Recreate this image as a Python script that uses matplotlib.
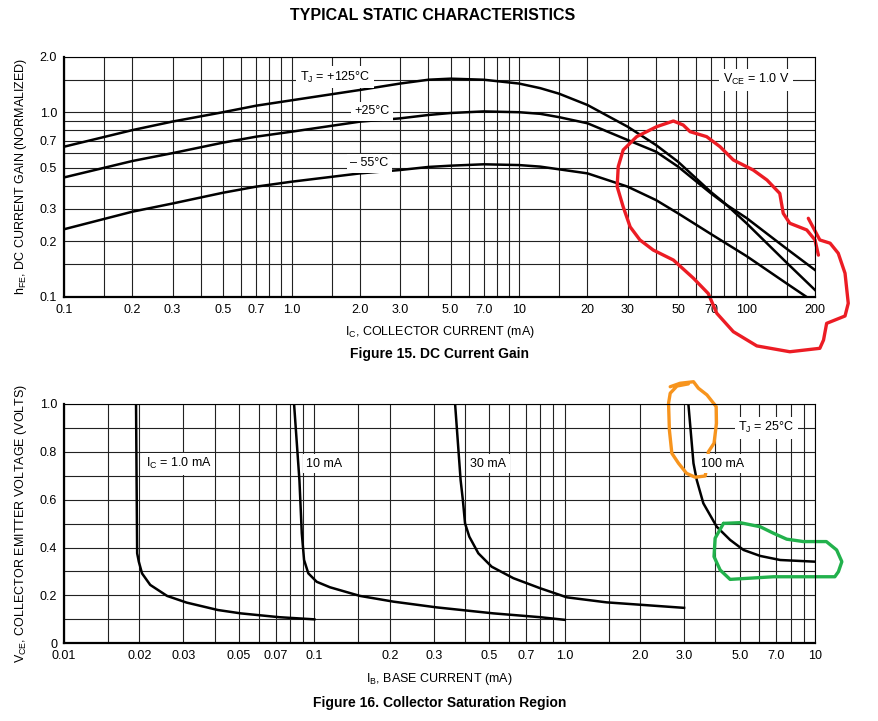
import matplotlib
matplotlib.use('Agg')
import matplotlib.pyplot as plt

plt.rcParams['font.family'] = ['Liberation Sans Narrow', 'Liberation Sans', 'DejaVu Sans']
plt.rcParams['mathtext.fontset'] = 'custom'
plt.rcParams['mathtext.rm'] = 'Liberation Sans Narrow'

# Figure 15 - DC current gain (normalized) vs collector current, mA
ic_hot = [0.1, 0.2, 0.3, 0.5, 0.7, 1.0, 2.0, 3.0, 4.0, 5.0, 7.0, 10, 12.4, 15, 20, 30, 40, 50, 70, 80, 100, 150, 200]
hfe_125 = [0.65, 0.80, 0.89, 1.0, 1.085, 1.16, 1.32, 1.43, 1.50, 1.52, 1.50, 1.43, 1.35, 1.26, 1.094, 0.835, 0.664,
           0.539, 0.368, 0.322, 0.25, 0.153, 0.1087]
hfe_25 = [0.443, 0.544, 0.60, 0.684, 0.737, 0.784, 0.889, 0.926, 0.966, 0.99, 1.01, 1.0, 0.98, 0.94, 0.871, 0.707,
          0.611, 0.507, 0.362, 0.32, 0.267, 0.182, 0.1395]
ic_cold = [0.1, 0.2, 0.3, 0.5, 0.7, 1.0, 2.0, 3.0, 4.0, 5.0, 7.0, 10, 12.4, 20, 30, 40, 50, 70, 100, 150, 183]
hfe_m55 = [0.232, 0.289, 0.32, 0.366, 0.395, 0.42, 0.466, 0.486, 0.505, 0.513, 0.522, 0.517, 0.507, 0.466, 0.395,
           0.334, 0.283, 0.218, 0.166, 0.118, 0.1]

ic_ticks = [0.1, 0.2, 0.3, 0.5, 0.7, 1.0, 2.0, 3.0, 5.0, 7.0, 10, 20, 30, 50, 70, 100, 200]
ic_ticklabels = ['0.1', '0.2', '0.3', '0.5', '0.7', '1.0', '2.0', '3.0', '5.0', '7.0', '10', '20', '30', '50', '70', '100', '200']
hfe_ticks = [0.1, 0.2, 0.3, 0.5, 0.7, 1.0, 2.0]
hfe_ticklabels = ['0.1', '0.2', '0.3', '0.5', '0.7', '1.0', '2.0']

# Figure 16 - collector saturation region, VCE vs base current, mA
ib_1 = [0.0194, 0.0195, 0.0196, 0.0199, 0.0205, 0.0221, 0.0258, 0.0309, 0.0412, 0.0508, 0.0724, 0.1]
vce_1 = [1.0, 0.68, 0.376, 0.341, 0.292, 0.244, 0.198, 0.17, 0.139, 0.125, 0.109, 0.10]
ib_10 = [0.083, 0.0872, 0.0891, 0.091, 0.0946, 0.1022, 0.1155, 0.152, 0.207, 0.308, 0.519, 0.798, 1.0]
vce_10 = [1.0, 0.68, 0.46, 0.348, 0.2925, 0.257, 0.234, 0.198, 0.174, 0.150, 0.125, 0.109, 0.098]
ib_30 = [0.365, 0.384, 0.392, 0.40, 0.416, 0.452, 0.511, 0.624, 0.798, 1.02, 1.47, 2.07, 3.0]
vce_30 = [1.0, 0.682, 0.599, 0.501, 0.4455, 0.376, 0.32, 0.272, 0.23, 0.192, 0.171, 0.160, 0.148]
ib_100 = [3.12, 3.27, 3.37, 3.58, 4.05, 4.58, 5.18, 6.04, 7.26, 10]
vce_100 = [1.0, 0.752, 0.682, 0.585, 0.487, 0.432, 0.39, 0.365, 0.348, 0.341]

ib_ticks = [0.01, 0.02, 0.03, 0.05, 0.07, 0.1, 0.2, 0.3, 0.5, 0.7, 1.0, 2.0, 3.0, 5.0, 7.0, 10]
ib_ticklabels = ['0.01', '0.02', '0.03', '0.05', '0.07', '0.1', '0.2', '0.3', '0.5', '0.7', '1.0', '2.0', '3.0', '5.0', '7.0', '10']
vce_ticks = [0, 0.2, 0.4, 0.6, 0.8, 1.0]
vce_ticklabels = ['0', '0.2', '0.4', '0.6', '0.8', '1.0']

# hand drawn marks on the reference (data coordinates)
red_x = [186.9, 210, 233, 253, 271, 280, 271, 225, 218, 210, 155, 111, 87.5, 74, 67.9, 58.4, 47.7, 38.9, 34, 30.8,
         28.7, 27, 27.3, 28.7, 32.9, 40.3, 47.7, 52.7, 56.5, 66.8, 76.5, 87.5, 107, 123, 140, 145, 155, 184, 200, 207]
red_y = [0.266, 0.203, 0.195, 0.172, 0.134, 0.0921, 0.0786, 0.0717, 0.0582, 0.0525, 0.0503, 0.0541, 0.0646, 0.0813,
         0.104, 0.126, 0.158, 0.179, 0.203, 0.239, 0.307, 0.395, 0.507, 0.624, 0.737, 0.835, 0.896, 0.852, 0.784,
         0.737, 0.65, 0.551, 0.486, 0.429, 0.363, 0.283, 0.25, 0.23, 0.203, 0.168]
orange_x = [2.64, 2.89, 3.27, 3.42, 3.70, 4.03, 4.04, 3.95, 3.75, 3.70, 3.64, 3.32, 3.07, 2.85, 2.68, 2.62, 2.60, 2.64, 2.81, 3.12]
orange_y = [1.072, 1.0865, 1.093, 1.066, 1.038, 0.989, 0.919, 0.836, 0.80, 0.738, 0.699, 0.694, 0.710, 0.752, 0.794,
            0.891, 1.003, 1.045, 1.075, 1.084]
green_x = [4.31, 5.02, 6.04, 6.82, 7.71, 8.99, 11.1, 12.2, 12.8, 12.4, 12.0, 6.82, 4.58, 4.18, 3.95, 3.99, 4.31]
green_y = [0.501, 0.504, 0.487, 0.46, 0.435, 0.425, 0.425, 0.39, 0.341, 0.299, 0.278, 0.278, 0.267, 0.306, 0.362, 0.439, 0.501]


def log_grid(lo_exp, hi_val):
    pos = []
    for e in range(lo_exp, 3):
        for m in [1, 1.5, 2, 3, 4, 5, 6, 7, 8, 9]:
            v = m * 10.0 ** e
            if v <= hi_val * 1.0001:
                pos.append(v)
    return pos


def style_axes(ax):
    ax.grid(True, which='both', color='#222222', linewidth=0.8)
    ax.set_axisbelow(True)
    ax.tick_params(which='both', length=0, labelsize=9, pad=5)
    for side in ['top', 'right']:
        ax.spines[side].set_linewidth(0.8)
    for side in ['bottom', 'left']:
        ax.spines[side].set_linewidth(1.6)


def label(ax, x, y, s, ha='center'):
    ax.text(x, y, s, ha=ha, va='center', fontsize=9,
            bbox=dict(facecolor='white', edgecolor='none', pad=2.5))


fig = plt.figure(figsize=(8.79, 7.21), dpi=100)

# ---- Figure 15
ax1 = fig.add_axes([0.0728, 0.5885, 0.8544, 0.3329])
ax1.set_xscale('log')
ax1.set_yscale('log')
ax1.set_xlim(0.1, 200)
ax1.set_ylim(0.1, 2.0)
ax1.set_xticks(ic_ticks, ic_ticklabels)
ax1.set_xticks([v for v in log_grid(-1, 200) if v not in ic_ticks], minor=True)
ax1.set_yticks(hfe_ticks, hfe_ticklabels)
ax1.set_yticks([0.15, 0.4, 0.6, 0.8, 0.9, 1.5], minor=True)
ax1.xaxis.set_minor_formatter(plt.NullFormatter())
ax1.yaxis.set_minor_formatter(plt.NullFormatter())
style_axes(ax1)

ax1.plot(ic_hot, hfe_125, color='black', linewidth=1.8)
ax1.plot(ic_hot, hfe_25, color='black', linewidth=1.8)
ax1.plot(ic_cold, hfe_m55, color='black', linewidth=1.8)

label(ax1, 1.55, 1.55, r'T$_\mathregular{J}$ = +125°C')
label(ax1, 2.25, 1.01, '+25°C')
label(ax1, 2.2, 0.53, '– 55°C')
label(ax1, 110, 1.5, r'V$_\mathregular{CE}$ = 1.0 V')

ax1.set_xlabel(r'I$_\mathregular{C}$, COLLECTOR CURRENT (mA)', fontsize=9, labelpad=6)
ax1.set_ylabel(r'h$_\mathregular{FE}$, DC CURRENT GAIN (NORMALIZED)', fontsize=9, labelpad=8)

ax1.plot(red_x, red_y, color='#ec1c24', linewidth=2.4, clip_on=False, solid_capstyle='round')

# ---- Figure 16
ax2 = fig.add_axes([0.0728, 0.1078, 0.8544, 0.3319])
ax2.set_xscale('log')
ax2.set_xlim(0.01, 10)
ax2.set_ylim(0, 1.0)
ax2.set_xticks(ib_ticks, ib_ticklabels)
ax2.set_xticks([v for v in log_grid(-2, 10) if v not in ib_ticks], minor=True)
ax2.set_yticks(vce_ticks, vce_ticklabels)
ax2.set_yticks([0.1, 0.3, 0.5, 0.7, 0.9], minor=True)
ax2.xaxis.set_minor_formatter(plt.NullFormatter())
style_axes(ax2)

ax2.plot(ib_1, vce_1, color='black', linewidth=1.8)
ax2.plot(ib_10, vce_10, color='black', linewidth=1.8)
ax2.plot(ib_30, vce_30, color='black', linewidth=1.8)
ax2.plot(ib_100, vce_100, color='black', linewidth=1.8)

label(ax2, 0.0212, 0.75, r'I$_\mathregular{C}$ = 1.0 mA', ha='left')
label(ax2, 0.093, 0.75, '10 mA', ha='left')
label(ax2, 0.42, 0.75, '30 mA', ha='left')
label(ax2, 3.5, 0.75, '100 mA', ha='left')
label(ax2, 6.4, 0.90, r'T$_\mathregular{J}$ = 25°C')

ax2.set_xlabel(r'I$_\mathregular{B}$, BASE CURRENT (mA)', fontsize=9, labelpad=6)
ax2.set_ylabel(r'V$_\mathregular{CE}$, COLLECTOR EMITTER VOLTAGE (VOLTS)', fontsize=9, labelpad=8)

ax2.plot(orange_x, orange_y, color='#f7941d', linewidth=2.4, clip_on=False, solid_capstyle='round')
ax2.plot(green_x, green_y, color='#22b14c', linewidth=2.4, clip_on=False, solid_capstyle='round')

fig.text(0.492, 0.979, 'TYPICAL STATIC CHARACTERISTICS', ha='center', va='center',
         fontsize=11.5, fontweight='bold')
fig.text(0.5, 0.509, 'Figure 15. DC Current Gain', ha='center', va='center',
         fontsize=10, fontweight='bold', family=['Liberation Sans', 'DejaVu Sans'])
fig.text(0.5, 0.025, 'Figure 16. Collector Saturation Region', ha='center', va='center',
         fontsize=10, fontweight='bold', family=['Liberation Sans', 'DejaVu Sans'])

fig.savefig('out.png', dpi=100)
